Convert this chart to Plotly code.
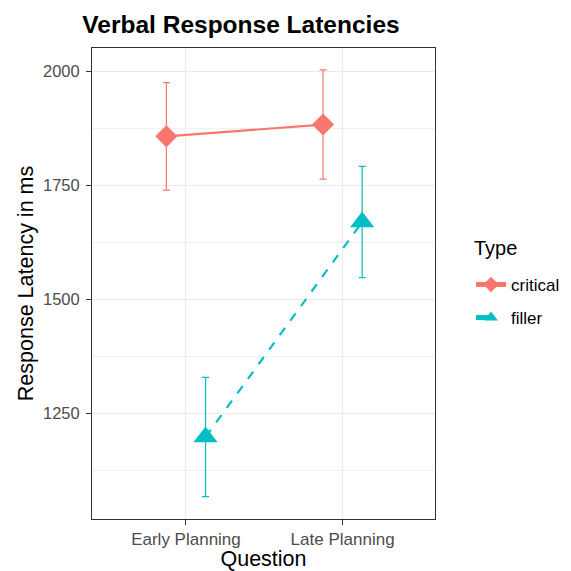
import plotly.graph_objects as go

categories = ["Early Planning", "Late Planning"]
types = ["critical", "filler"]
critical_mean = [1858, 1884]
critical_se = [118, 120]
filler_mean = [1198, 1670]
filler_se = [131, 122]
y_ticks = [1250, 1500, 1750, 2000]

colors = {"critical": "#F8766D", "filler": "#00BFC4"}
symbols = {"critical": "diamond", "filler": "triangle-up"}
dashes = {"critical": "solid", "filler": "dash"}
dodge = {"critical": -0.125, "filler": 0.125}
sizes = {"critical": 17, "filler": 21}

series = {"critical": (critical_mean, critical_se), "filler": (filler_mean, filler_se)}

fig = go.Figure()
for t in types:
    m, se = series[t]
    xs = [i + dodge[t] for i in range(len(categories))]
    fig.add_trace(go.Scatter(
        x=xs, y=m, name=t, mode="lines+markers", legendgroup=t,
        line=dict(color=colors[t], width=2.2, dash=dashes[t]),
        marker=dict(symbol=symbols[t], size=sizes[t], color=colors[t]),
        error_y=dict(type="data", array=se, color=colors[t], thickness=1.2, width=3.5),
    ))

W = 563
fig.update_layout(
    width=W, height=W,
    margin=dict(l=84, r=136, t=40, b=52, autoexpand=False),
    paper_bgcolor="white", plot_bgcolor="white",
    font=dict(family="Liberation Sans, Arial, sans-serif", color="#000000"),
    title=dict(text="<b>Verbal Response Latencies</b>", x=(241 - 8) / W, xanchor="center",
               y=1 - (24 - 8) / W, yanchor="middle", font=dict(size=24.5, color="black")),
    legend=dict(font=dict(size=17),
                x=1.105, xanchor="left", y=0.462, yanchor="middle",
                tracegroupgap=8, itemsizing="constant"),
    showlegend=True,
    annotations=[dict(text="Type", xref="paper", yref="paper", x=1.108, y=0.575,
                      xanchor="left", yanchor="middle", showarrow=False,
                      font=dict(size=20, color="black"))],
)
fig.update_xaxes(
    range=[-0.6, 1.59], tickvals=list(range(len(categories))), ticktext=categories,
    showgrid=True, gridcolor="#EBEBEB", gridwidth=1, zeroline=False,
    showline=True, linecolor="#333333", linewidth=1, mirror=True,
    ticks="outside", ticklen=5, tickcolor="#333333",
    tickfont=dict(size=17, color="#4D4D4D"),
    title=dict(text="Question", font=dict(size=21.5), standoff=5),
)
fig.update_yaxes(
    range=[1018, 2052], tickvals=y_ticks,
    showgrid=True, gridcolor="#EBEBEB", gridwidth=1, zeroline=False,
    showline=True, linecolor="#333333", linewidth=1, mirror=True,
    ticks="outside", ticklen=5, tickcolor="#333333", ticklabelstandoff=3,
    tickfont=dict(size=16.5, color="#4D4D4D"),
    minor=dict(tickvals=[1125, 1375, 1625, 1875], showgrid=True, gridcolor="#F0F0F0", gridwidth=1, ticks=""),
    title=dict(text="Response Latency in ms", font=dict(size=21.5), standoff=3),
)

fig.write_html("out.html")
